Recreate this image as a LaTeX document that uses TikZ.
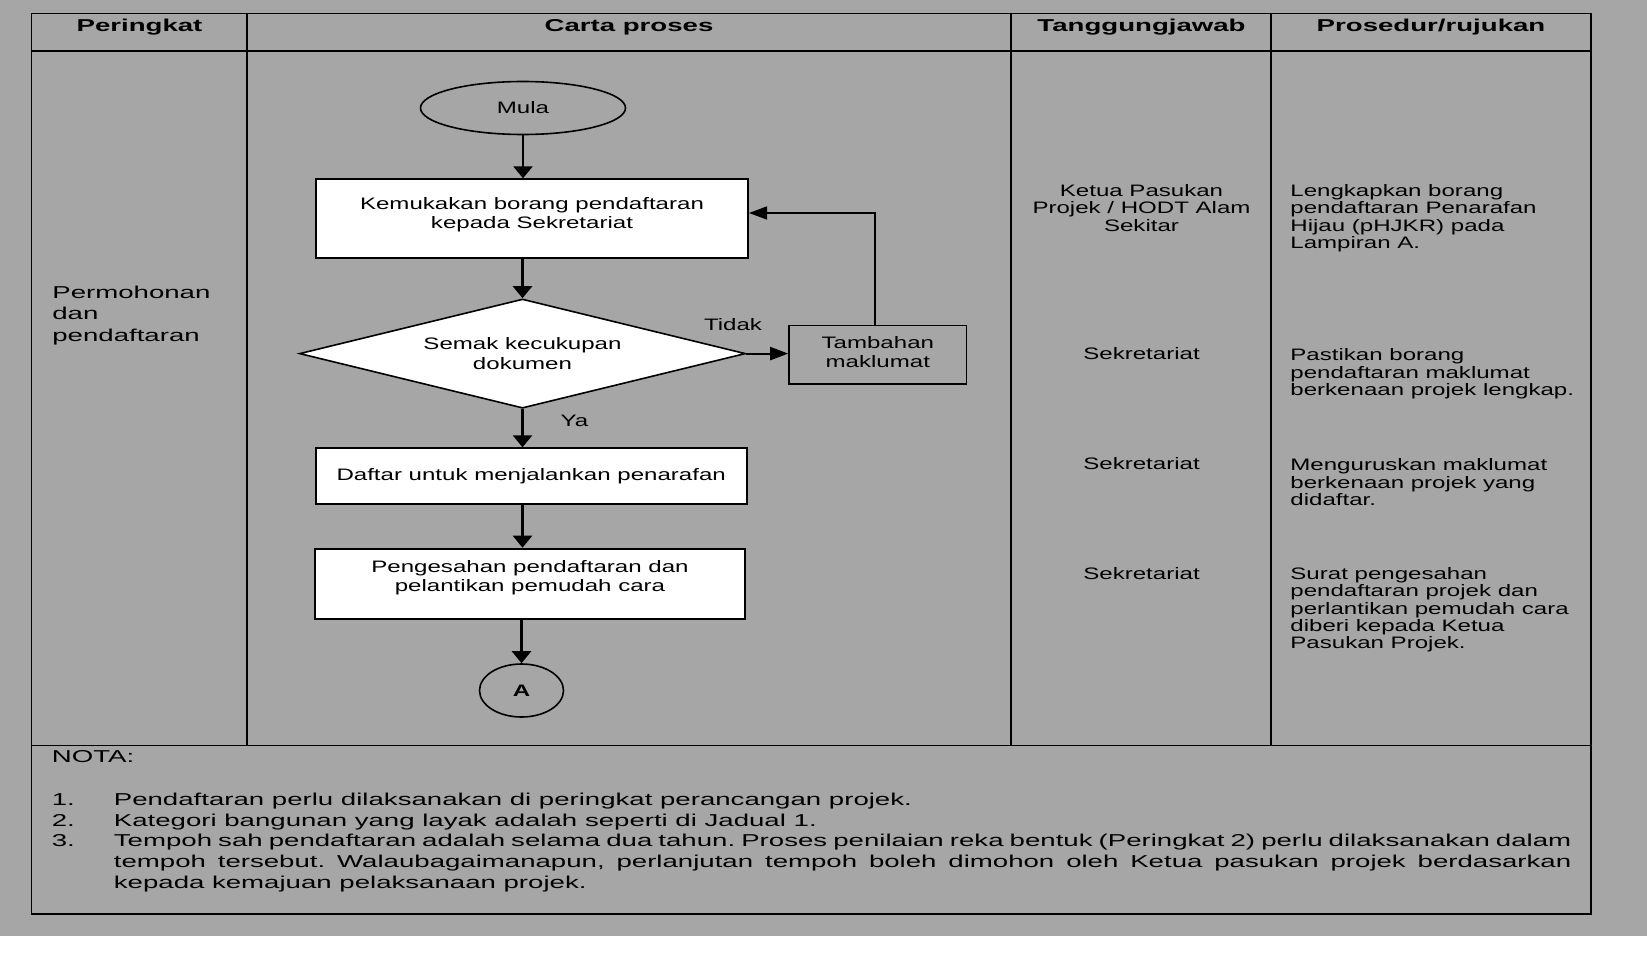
\documentclass[tikz,border=0pt]{standalone}
\usepackage{fontspec}
\setmainfont{Liberation Sans}[FakeStretch=1.45]
\newfontfamily\widefont{Liberation Sans}[FakeStretch=1.605]
\usetikzlibrary{shapes.geometric,arrows.meta}

\definecolor{pagegray}{RGB}{166,166,166}
\newcommand{\chartfont}{\fontsize{8.3}{9.65}\selectfont}
\newcommand{\cellfont}{\fontsize{8.3}{8.7}\selectfont}
\newcommand{\headfont}{\widefont\bfseries\fontsize{8.6}{10}\selectfont}
\newcommand{\notefont}{\widefont\fontsize{8.6}{10.35}\selectfont\frenchspacing}
\newcommand{\stagefont}{\widefont\fontsize{8.6}{10.6}\selectfont}
\newcommand{\noteitem}[2]{\makebox[31pt][l]{#1}\parbox[t]{728.75pt}{#2}}

\tikzset{
    gridline/.style={line width=0.8pt},
    headtext/.style={anchor=base, inner sep=0pt, font=\headfont},
    stagetext/.style={anchor=north west, inner sep=0pt, align=left, font=\stagefont},
    resptext/.style={inner sep=0pt, align=center, font=\cellfont},
    proctext/.style={anchor=north west, inner sep=0pt, align=left, font=\cellfont},
    notetext/.style={inner sep=0pt, font=\notefont},
    procbox/.style={draw, fill=white, line width=1pt, align=center, inner sep=0pt, font=\chartfont},
    decision/.style={diamond, draw, fill=white, line width=0.8pt, aspect=4.08, inner sep=0pt,
        minimum width=223pt, minimum height=54.6pt, align=center, font=\chartfont},
    sidebox/.style={draw, line width=0.8pt, minimum width=88.8pt, minimum height=29.2pt,
        inner sep=0pt, align=center, font=\chartfont},
    terminal/.style={ellipse, draw, line width=0.8pt, inner sep=0pt, font=\chartfont},
    flowlabel/.style={anchor=base, inner sep=0pt, font=\chartfont},
    flowdown/.style={-{Triangle[length=6pt,width=9.5pt]}, line width=1.3pt},
    flowside/.style={-{Triangle[length=9pt,width=6.5pt]}, line width=1.1pt},
    feedback/.style={-{Triangle[length=9pt,width=6.5pt]}, line width=0.7pt}
}

\begin{document}
\begin{tikzpicture}[x=0.5pt, y=-0.5pt]
    \useasboundingbox (0,0) rectangle (1647,968);
    \fill[pagegray] (0,0) rectangle (1647,936);

    \coordinate (topleft)  at (31.5,13.5);
    \coordinate (botright) at (1591,914);

    \draw[gridline] (topleft) rectangle (botright);
    \draw[gridline] (31.5,51) -- (1591,51);
    \draw[gridline] (31.5,745.5) -- (1591,745.5);
    \foreach \x in {247,1011,1271}
        \draw[gridline] (\x,13.5) -- (\x,745.5);
    \draw[line width=1.4pt] (31.5,914) -- (botright);

    \node[headtext] (hperingkat) at (139.5,31.5) {Peringkat};
    \node[headtext] (hcarta)     at (629,31.5)   {Carta proses};
    \node[headtext] (htanggung)  at (1141.5,31.5) {Tanggungjawab};
    \node[headtext] (hprosedur)  at (1431,31.5)  {Prosedur/rujukan};

    \node[stagetext] (peringkat) at (52,285.8) {Permohonan\\dan\\pendaftaran};

    \node[terminal, minimum width=102.5pt, minimum height=26.5pt] (mula) at (523,108) {Mula};
    \node[procbox, minimum width=216pt, minimum height=39.2pt] (kemuka) at (532,218.5)
        {Kemukakan borang pendaftaran\\kepada Sekretariat\\[-4pt]\mbox{}};
    \node[decision] (semak) at (522.5,353.6) {Semak kecukupan\\dokumen};
    \node[sidebox] (tambah) at (877.8,354.8) {Tambahan\\maklumat\\[-7pt]\mbox{}};
    \node[procbox, minimum width=215.5pt, minimum height=28pt] (daftar) at (531.2,476.3)
        {Daftar untuk menjalankan penarafan};
    \node[procbox, minimum width=215.3pt, minimum height=35.3pt] (sah) at (530,584)
        {Pengesahan pendaftaran dan\\pelantikan pemudah cara\\[-1.7pt]\mbox{}};
    \node[terminal, minimum width=42pt, minimum height=26.5pt] (akhir) at (521.5,690.5) {\bfseries A};

    \node[flowlabel] (tidak) at (733,330.7) {Tidak};
    \node[flowlabel] (ya)    at (574.5,426.7) {Ya};

    \draw[flowdown] (mula.south) -- (mula.south |- kemuka.north);
    \draw[flowdown] (kemuka.south -| semak.north) -- (semak.north);
    \draw[flowdown] (semak.south) -- (semak.south |- daftar.north);
    \draw[flowdown] (daftar.south -| semak.south) -- (sah.north -| semak.south);
    \draw[flowdown] (sah.south -| akhir.north) -- (akhir.north);
    \draw[flowside] (semak.east) -- (semak.east -| tambah.west);
    \coordinate (balik) at (875,213);
    \draw[feedback] (tambah.north -| balik) -- (balik) -- (balik -| kemuka.east);

    \node[resptext, anchor=north] (resp1) at (1141.5,183.8) {Ketua Pasukan\\Projek / HODT Alam\\Sekitar};
    \node[resptext, anchor=base]  (resp2) at (1141.5,359.8) {Sekretariat};
    \node[resptext, anchor=base]  (resp3) at (1141.5,469.3) {Sekretariat};
    \node[resptext, anchor=base]  (resp4) at (1141.5,579.3) {Sekretariat};

    \node[proctext] (ref1) at (1290,183.8) {Lengkapkan borang\\pendaftaran Penarafan\\Hijau (pHJKR) pada\\Lampiran A.};
    \node[proctext] (ref2) at (1290,348.3) {Pastikan borang\\pendaftaran maklumat\\berkenaan projek lengkap.};
    \node[proctext] (ref3) at (1290,458.3) {Menguruskan maklumat\\berkenaan projek yang\\didaftar.};
    \node[proctext] (ref4) at (1290,566.8) {Surat pengesahan\\pendaftaran projek dan\\perlantikan pemudah cara\\diberi kepada Ketua\\Pasukan Projek.};

    \node[notetext, anchor=base west] (nota) at (51.5,762.5) {NOTA:};
    \node[notetext, anchor=north west, text width=759.75pt, align=justify] (senarai) at (51.5,792.5) {%
        \noteitem{1.}{Pendaftaran perlu dilaksanakan di peringkat perancangan projek.}\par
        \noteitem{2.}{Kategori bangunan yang layak adalah seperti di Jadual 1.}\par
        \noteitem{3.}{Tempoh sah pendaftaran adalah selama dua tahun. Proses penilaian reka bentuk
        (Peringkat 2) perlu dilaksanakan dalam\linebreak tempoh tersebut. Walaubagaimanapun, perlanjutan
        tempoh boleh dimohon oleh Ketua pasukan projek berdasarkan\linebreak kepada kemajuan pelaksanaan projek.}};
\end{tikzpicture}
\end{document}
